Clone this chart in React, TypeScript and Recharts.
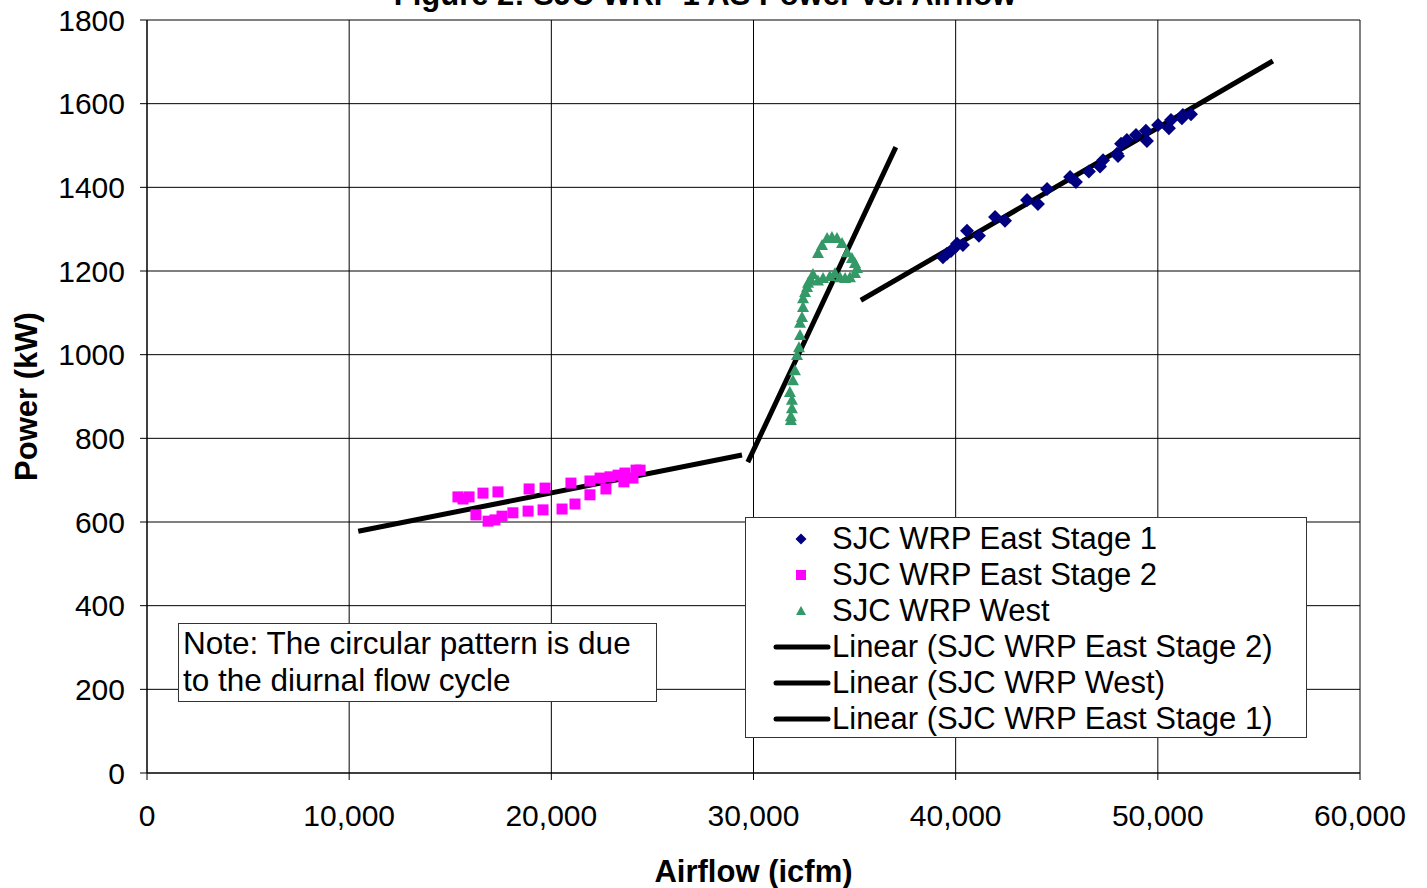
import { ScatterChart, Scatter, XAxis, YAxis, CartesianGrid, Legend } from 'recharts';

const FONT = '"Liberation Sans", Arial, Helvetica, sans-serif';

const xTicks = [0, 10000, 20000, 30000, 40000, 50000, 60000];
const yTicks = [0, 200, 400, 600, 800, 1000, 1200, 1400, 1600, 1800];

// measured points, airflow (icfm) vs power (kW)
const east1 = [
  { x: 39370, y: 1233 }, { x: 39570, y: 1241 }, { x: 39770, y: 1248 }, { x: 39970, y: 1257 },
  { x: 40070, y: 1265 }, { x: 40360, y: 1262 }, { x: 40560, y: 1296 }, { x: 41150, y: 1284 },
  { x: 41950, y: 1329 }, { x: 42440, y: 1320 }, { x: 43530, y: 1370 }, { x: 44070, y: 1360 },
  { x: 44520, y: 1396 }, { x: 45660, y: 1425 }, { x: 45950, y: 1413 }, { x: 46590, y: 1438 },
  { x: 47140, y: 1450 }, { x: 47290, y: 1465 }, { x: 47980, y: 1480 }, { x: 48030, y: 1475 },
  { x: 48180, y: 1504 }, { x: 48470, y: 1513 }, { x: 48920, y: 1525 }, { x: 49410, y: 1535 },
  { x: 49460, y: 1511 }, { x: 50010, y: 1549 }, { x: 50550, y: 1541 }, { x: 50650, y: 1561 },
  { x: 51190, y: 1565 }, { x: 51240, y: 1573 }, { x: 51640, y: 1575 },
];

const east2 = [
  { x: 15380, y: 660 }, { x: 15630, y: 655 }, { x: 15930, y: 660 }, { x: 16270, y: 617 },
  { x: 16620, y: 669 }, { x: 16870, y: 602 }, { x: 17210, y: 605 }, { x: 17360, y: 672 },
  { x: 17560, y: 614 }, { x: 18100, y: 622 }, { x: 18850, y: 626 }, { x: 18900, y: 679 },
  { x: 19590, y: 629 }, { x: 19690, y: 681 }, { x: 20530, y: 631 }, { x: 20970, y: 693 },
  { x: 21170, y: 643 }, { x: 21910, y: 665 }, { x: 21910, y: 698 }, { x: 22410, y: 705 },
  { x: 22700, y: 679 }, { x: 22900, y: 708 }, { x: 23300, y: 712 }, { x: 23590, y: 696 },
  { x: 23640, y: 717 }, { x: 24040, y: 705 }, { x: 24190, y: 724 }, { x: 24390, y: 724 },
];

const west = [
  { x: 31850, y: 844 }, { x: 31850, y: 853 }, { x: 31900, y: 872 }, { x: 31900, y: 892 },
  { x: 31800, y: 911 }, { x: 31950, y: 939 }, { x: 32050, y: 963 }, { x: 32150, y: 999 },
  { x: 32250, y: 1018 }, { x: 32300, y: 1047 }, { x: 32300, y: 1076 }, { x: 32400, y: 1090 },
  { x: 32450, y: 1114 }, { x: 32450, y: 1135 }, { x: 32550, y: 1150 }, { x: 32650, y: 1162 },
  { x: 32700, y: 1172 }, { x: 32840, y: 1179 }, { x: 32940, y: 1193 }, { x: 33190, y: 1177 },
  { x: 33440, y: 1183 }, { x: 33780, y: 1188 }, { x: 34030, y: 1195 }, { x: 34280, y: 1185 },
  { x: 34530, y: 1183 }, { x: 34770, y: 1185 }, { x: 35020, y: 1195 }, { x: 35120, y: 1207 },
  { x: 35020, y: 1219 }, { x: 34870, y: 1231 }, { x: 34630, y: 1245 }, { x: 34380, y: 1267 },
  { x: 34130, y: 1279 }, { x: 33880, y: 1281 }, { x: 33640, y: 1279 }, { x: 33390, y: 1262 },
  { x: 33190, y: 1243 },
];

// linear trendline end points
const trendEast2 = [{ x: 10450, y: 578 }, { x: 29430, y: 760 }];
const trendWest = [{ x: 29720, y: 743 }, { x: 37040, y: 1496 }];
const trendEast1 = [{ x: 35310, y: 1130 }, { x: 55690, y: 1702 }];

const legendItems = [
  { label: 'SJC WRP East Stage 1', kind: 'diamond' },
  { label: 'SJC WRP East Stage 2', kind: 'square' },
  { label: 'SJC WRP West', kind: 'triangle' },
  { label: 'Linear (SJC WRP East Stage 2)', kind: 'line' },
  { label: 'Linear (SJC WRP West)', kind: 'line' },
  { label: 'Linear (SJC WRP East Stage 1)', kind: 'line' },
];

const fmt = (v: number) => v.toLocaleString('en-US');

// marker half-widths in px (recharts passes its own `size`, so keep a separate name)
const DIAMOND_R = 7;
const SQUARE_R = 5.5;
const TRI_R = 6;

function Diamond({ cx, cy, r = DIAMOND_R }: any) {
  return <polygon points={`${cx},${cy - r} ${cx + r},${cy} ${cx},${cy + r} ${cx - r},${cy}`} fill="#000080" />;
}

function Square({ cx, cy, r = SQUARE_R }: any) {
  return <rect x={cx - r} y={cy - r} width={r * 2} height={r * 2} fill="#FF00FF" />;
}

function Triangle({ cx, cy, r = TRI_R }: any) {
  return <polygon points={`${cx},${cy - r} ${cx + r},${cy + r - 1} ${cx - r},${cy + r - 1}`} fill="#339966" />;
}

const NoDot = () => <g />;

function ChartLegend() {
  return (
    <div
      style={{
        width: 562,
        height: 221,
        boxSizing: 'border-box',
        border: '1px solid #333',
        background: '#fff',
        position: 'relative',
        fontFamily: FONT,
        fontSize: 31,
        color: '#000',
      }}
    >
      {legendItems.map((it, i) => (
        <div
          key={it.label}
          style={{ position: 'absolute', left: 0, top: 3 + i * 36, height: 36, display: 'flex', alignItems: 'center', whiteSpace: 'nowrap' }}
        >
          <svg width={86} height={36} style={{ display: 'block' }}>
            {it.kind === 'diamond' && <Diamond cx={55} cy={18} r={5.5} />}
            {it.kind === 'square' && <Square cx={55} cy={18} r={5} />}
            {it.kind === 'triangle' && <Triangle cx={55} cy={18} r={5} />}
            {it.kind === 'line' && <line x1={30} x2={82} y1={18} y2={18} stroke="#000" strokeWidth={5} strokeLinecap="round" />}
          </svg>
          <span style={{ lineHeight: '36px' }}>{it.label}</span>
        </div>
      ))}
    </div>
  );
}

export default function App() {
  const tickStyle = { fontFamily: FONT, fontSize: 30, fill: '#000' };
  const titleStyle = { fontFamily: FONT, fontSize: 31, fontWeight: 'bold', fill: '#000' };
  return (
    <div style={{ position: 'relative', width: 1427, height: 888, background: '#fff', overflow: 'hidden' }}>
      <style>{'body { margin: 0; }'}</style>
      <div
        style={{
          position: 'absolute', left: 0, top: -20, width: 1410, textAlign: 'center',
          fontFamily: FONT, fontSize: 31, fontWeight: 'bold', lineHeight: '30px', zIndex: 2,
        }}
      >
        Figure 2: SJC WRP 1 AS Power vs. Airflow
      </div>
      <ScatterChart width={1427} height={888} margin={{ top: 20, right: 67, bottom: 0, left: 0 }}>
        <CartesianGrid stroke="#000" strokeWidth={1} />
        <XAxis
          type="number"
          dataKey="x"
          domain={[0, 60000]}
          ticks={xTicks}
          tickFormatter={fmt}
          height={115}
          stroke="#000"
          tickSize={7}
          tickMargin={25}
          tick={tickStyle}
          label={{ value: 'Airflow (icfm)', position: 'center', dy: 40, style: titleStyle }}
        />
        <YAxis
          type="number"
          dataKey="y"
          domain={[0, 1800]}
          ticks={yTicks}
          width={147}
          stroke="#000"
          tickSize={7}
          tickMargin={15}
          tick={tickStyle}
          label={{ value: 'Power (kW)', angle: -90, position: 'center', dx: -48, style: titleStyle }}
        />
        <Legend
          layout="vertical"
          align="center"
          verticalAlign="middle"
          content={() => <ChartLegend />}
          wrapperStyle={{ left: 745, top: 517, width: 562, height: 221 }}
        />
        <Scatter name="Linear (SJC WRP East Stage 2)" data={trendEast2} line={{ stroke: '#000', strokeWidth: 5 }} shape={NoDot} isAnimationActive={false} />
        <Scatter name="Linear (SJC WRP West)" data={trendWest} line={{ stroke: '#000', strokeWidth: 5 }} shape={NoDot} isAnimationActive={false} />
        <Scatter name="Linear (SJC WRP East Stage 1)" data={trendEast1} line={{ stroke: '#000', strokeWidth: 5 }} shape={NoDot} isAnimationActive={false} />
        <Scatter name="SJC WRP East Stage 1" data={east1} shape={(p: any) => <Diamond cx={p.cx} cy={p.cy} />} isAnimationActive={false} />
        <Scatter name="SJC WRP East Stage 2" data={east2} shape={(p: any) => <Square cx={p.cx} cy={p.cy} />} isAnimationActive={false} />
        <Scatter name="SJC WRP West" data={west} shape={(p: any) => <Triangle cx={p.cx} cy={p.cy} />} isAnimationActive={false} />
      </ScatterChart>
      <div
        style={{
          position: 'absolute', left: 178, top: 623, width: 479, height: 79, boxSizing: 'border-box',
          border: '1px solid #333', background: '#fff', fontFamily: FONT, fontSize: 31.5, lineHeight: '37px',
          padding: '1px 4px', color: '#000', whiteSpace: 'nowrap',
        }}
      >
        Note: The circular pattern is due
        <br />
        to the diurnal flow cycle
      </div>
    </div>
  );
}
